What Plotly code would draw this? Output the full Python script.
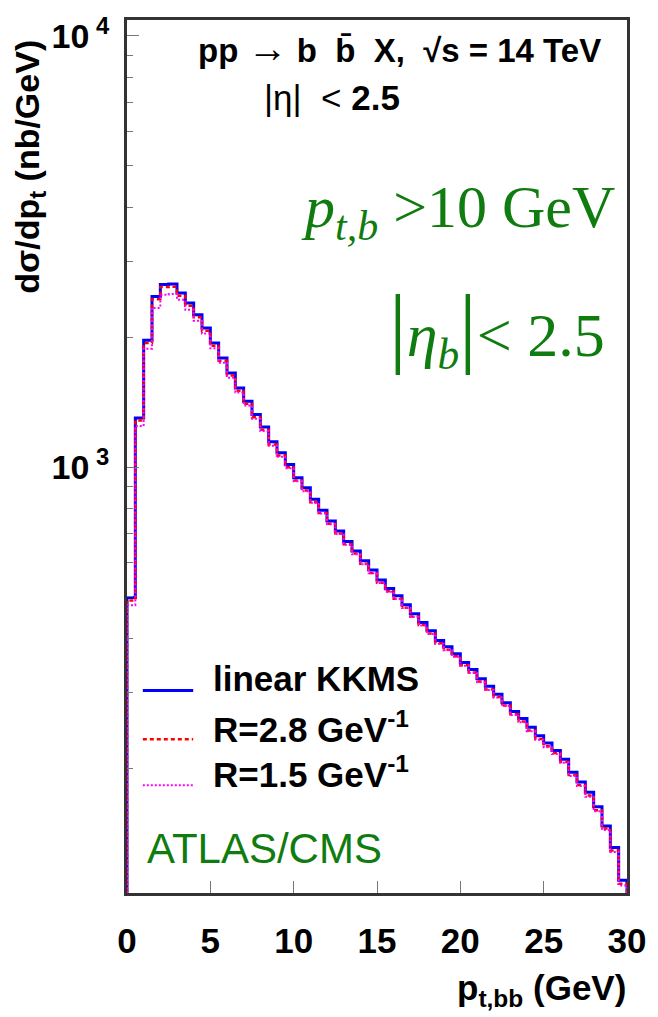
import numpy as np
import plotly.graph_objects as go

# d(sigma)/dp_t of the b-bbar pair, 0.5 GeV bins from 0 to 30 GeV (nb/GeV)
kkms_linear = [498, 1300, 1968, 2488, 2652, 2660, 2533, 2401, 2257, 2101,
               1940, 1791, 1653, 1526, 1422, 1324, 1238, 1144, 1079, 1014,
               944, 895, 842, 794, 750, 711, 672, 639, 606, 577,
               547, 523, 503, 479, 457, 436, 417, 396, 383, 369,
               352, 339, 323, 310, 297, 284, 271, 261, 249, 238,
               229, 220, 210, 196, 186, 176, 163, 147, 131, 110]
r_2p8 = [490, 1282, 1940, 2452, 2615, 2620, 2497, 2368, 2225, 2070,
         1912, 1765, 1630, 1504, 1402, 1305, 1220, 1128, 1063, 999,
         931, 882, 829, 782, 739, 701, 662, 630, 597, 568,
         539, 515, 495, 472, 450, 430, 411, 390, 377, 364,
         347, 334, 318, 305, 293, 280, 267, 257, 245, 234,
         225, 217, 207, 193, 183, 173, 160, 145, 129, 108]
r_1p5 = [478, 1245, 1882, 2340, 2510, 2520, 2445, 2318, 2185, 2040,
         1885, 1745, 1612, 1490, 1390, 1295, 1212, 1120, 1057, 994,
         927, 879, 826, 780, 737, 699, 660, 628, 595, 567,
         538, 514, 494, 471, 449, 429, 410, 389, 376, 363,
         346, 333, 317, 304, 292, 279, 266, 256, 244, 233,
         224, 216, 206, 192, 182, 172, 159, 144, 128, 107]

series_names = ["linear KKMS", "R=2.8 GeV<sup>-1</sup>", "R=1.5 GeV<sup>-1</sup>"]
series_colors = ["#0000ff", "#ff0000", "#ff00ff"]
series_dash = ["solid", "4px,3px", "2px,2px"]
series_width = [3, 2.5, 2]

x_ticks = [0, 5, 10, 15, 20, 25, 30]
y_major = [1000, 10000]
y_major_text = ["10<sup> 3</sup>", "10<sup> 4</sup>"]
y_minor = [200, 300, 400, 500, 600, 700, 800, 900,
           2000, 3000, 4000, 5000, 6000, 7000, 8000, 9000]

BIN = 0.5
X_MAX = 30.0
Y_LOG_RANGE = [2.012, 4.037]
BASE = 10 ** 1.9  # below the axis floor, so the histogram edges drop out of view

# plot-area geometry in pixels
W, H = 658, 1017
L, R, T, B = 127, 633, 18, 893


def px(xp):
    return (xp - L) / (R - L)


def py(yp):
    return (B - yp) / (B - T)


def step_xy(vals):
    lo = list(np.arange(len(vals)) * BIN)
    xs = [0.0] + lo + [X_MAX, X_MAX]
    ys = [BASE] + list(vals) + [vals[-1], BASE]
    return xs, ys


fig = go.Figure()
for vals, name, col, dash, lw in zip([kkms_linear, r_2p8, r_1p5], series_names,
                                     series_colors, series_dash, series_width):
    xs, ys = step_xy(vals)
    fig.add_trace(go.Scatter(x=xs, y=ys, mode="lines", line_shape="hv", name=name,
                             line=dict(color=col, width=lw, dash=dash),
                             showlegend=False))

SANS = "Liberation Sans, Arial, Helvetica, sans-serif"
SERIF = "Liberation Serif, Times New Roman, serif"
GREEN = "#107c10"
AXC = "#333333"

fig.update_layout(
    width=W, height=H,
    margin=dict(l=L, r=W - R, t=T, b=H - B, pad=0),
    paper_bgcolor="white", plot_bgcolor="white",
    font=dict(family=SANS, color="black"),
    xaxis=dict(range=[0, X_MAX], tickvals=x_ticks, ticks="inside", ticklen=12,
               tickwidth=1, tickcolor="#777", showgrid=False, zeroline=False,
               showline=True, mirror=True, linecolor=AXC, linewidth=3,
               tickfont=dict(family=SANS, size=35, color="black", weight="bold"),
               ticklabelstandoff=15),
    yaxis=dict(type="log", range=Y_LOG_RANGE, tickvals=y_major, ticktext=y_major_text,
               ticks="inside", ticklen=12, tickwidth=1, tickcolor="#777",
               minor=dict(tickvals=y_minor, ticks="inside", ticklen=6,
                          tickwidth=1, tickcolor="#777"),
               showgrid=False, zeroline=False, showline=True, mirror=True,
               linecolor=AXC, linewidth=3,
               tickfont=dict(family=SANS, size=34, color="black", weight="bold"),
               ticklabelstandoff=8),
)

ann = []
# axis titles
ann.append(dict(x=px(28), y=py(165), xref="paper", yref="paper",
                text="<b>dσ/dp<sub>t</sub> (nb/GeV)</b>", textangle=-90,
                showarrow=False, xanchor="center", yanchor="middle",
                font=dict(family=SANS, size=34, color="black")))
ann.append(dict(x=px(634), y=py(990), xref="paper", yref="paper",
                text="<b>p<sub>t,bb</sub> (GeV)</b>", showarrow=False,
                xanchor="right", yanchor="middle",
                font=dict(family=SANS, size=35, color="black")))
# process label
ann.append(dict(x=px(403), y=py(46), xref="paper", yref="paper",
                text="<b>pp <span style='font-size:40px'>→</span> b  b̄  X,  √s = 14 TeV</b>",
                showarrow=False, xanchor="center", yanchor="middle",
                font=dict(family=SANS, size=33, color="black")))
ann.append(dict(x=px(334), y=py(96), xref="paper", yref="paper",
                text="|η|  &lt; <b>2.5</b>", showarrow=False,
                xanchor="center", yanchor="middle",
                font=dict(family=SANS, size=35, color="black")))
# cuts
ann.append(dict(x=px(623), y=py(210), xref="paper", yref="paper",
                text="<i>p</i><sub><i>t,b</i></sub> &gt;10 GeV", showarrow=False,
                xanchor="right", yanchor="middle",
                font=dict(family=SERIF, size=60, color=GREEN)))
ann.append(dict(x=px(613), y=py(327), xref="paper", yref="paper",
                text="<span style='font-size:88px'>|</span><i>η</i><sub><i>b</i></sub>"
                     "<span style='font-size:88px'>|</span>&lt; 2.5",
                showarrow=False, xanchor="right", yanchor="middle",
                font=dict(family=SERIF, size=62, color=GREEN)))
ann.append(dict(x=px(145), y=py(848), xref="paper", yref="paper",
                text="ATLAS/CMS", showarrow=False, xanchor="left", yanchor="middle",
                font=dict(family=SANS, size=42, color=GREEN)))

# legend block
shapes = []
leg_line_y = [690, 739, 785]
leg_text_y = [678, 727, 772]
for name, col, dash, lw, ly, ty in zip(series_names, series_colors, series_dash,
                                       series_width, leg_line_y, leg_text_y):
    shapes.append(dict(type="line", xref="paper", yref="paper",
                       x0=px(143), x1=px(194), y0=py(ly), y1=py(ly),
                       line=dict(color=col, width=lw, dash=dash)))
    ann.append(dict(x=px(212), y=py(ty), xref="paper", yref="paper",
                    text="<b>" + name + "</b>", showarrow=False,
                    xanchor="left", yanchor="middle",
                    font=dict(family=SANS, size=35, color="black")))

fig.update_layout(annotations=ann, shapes=shapes)
fig.write_html("out.html")
